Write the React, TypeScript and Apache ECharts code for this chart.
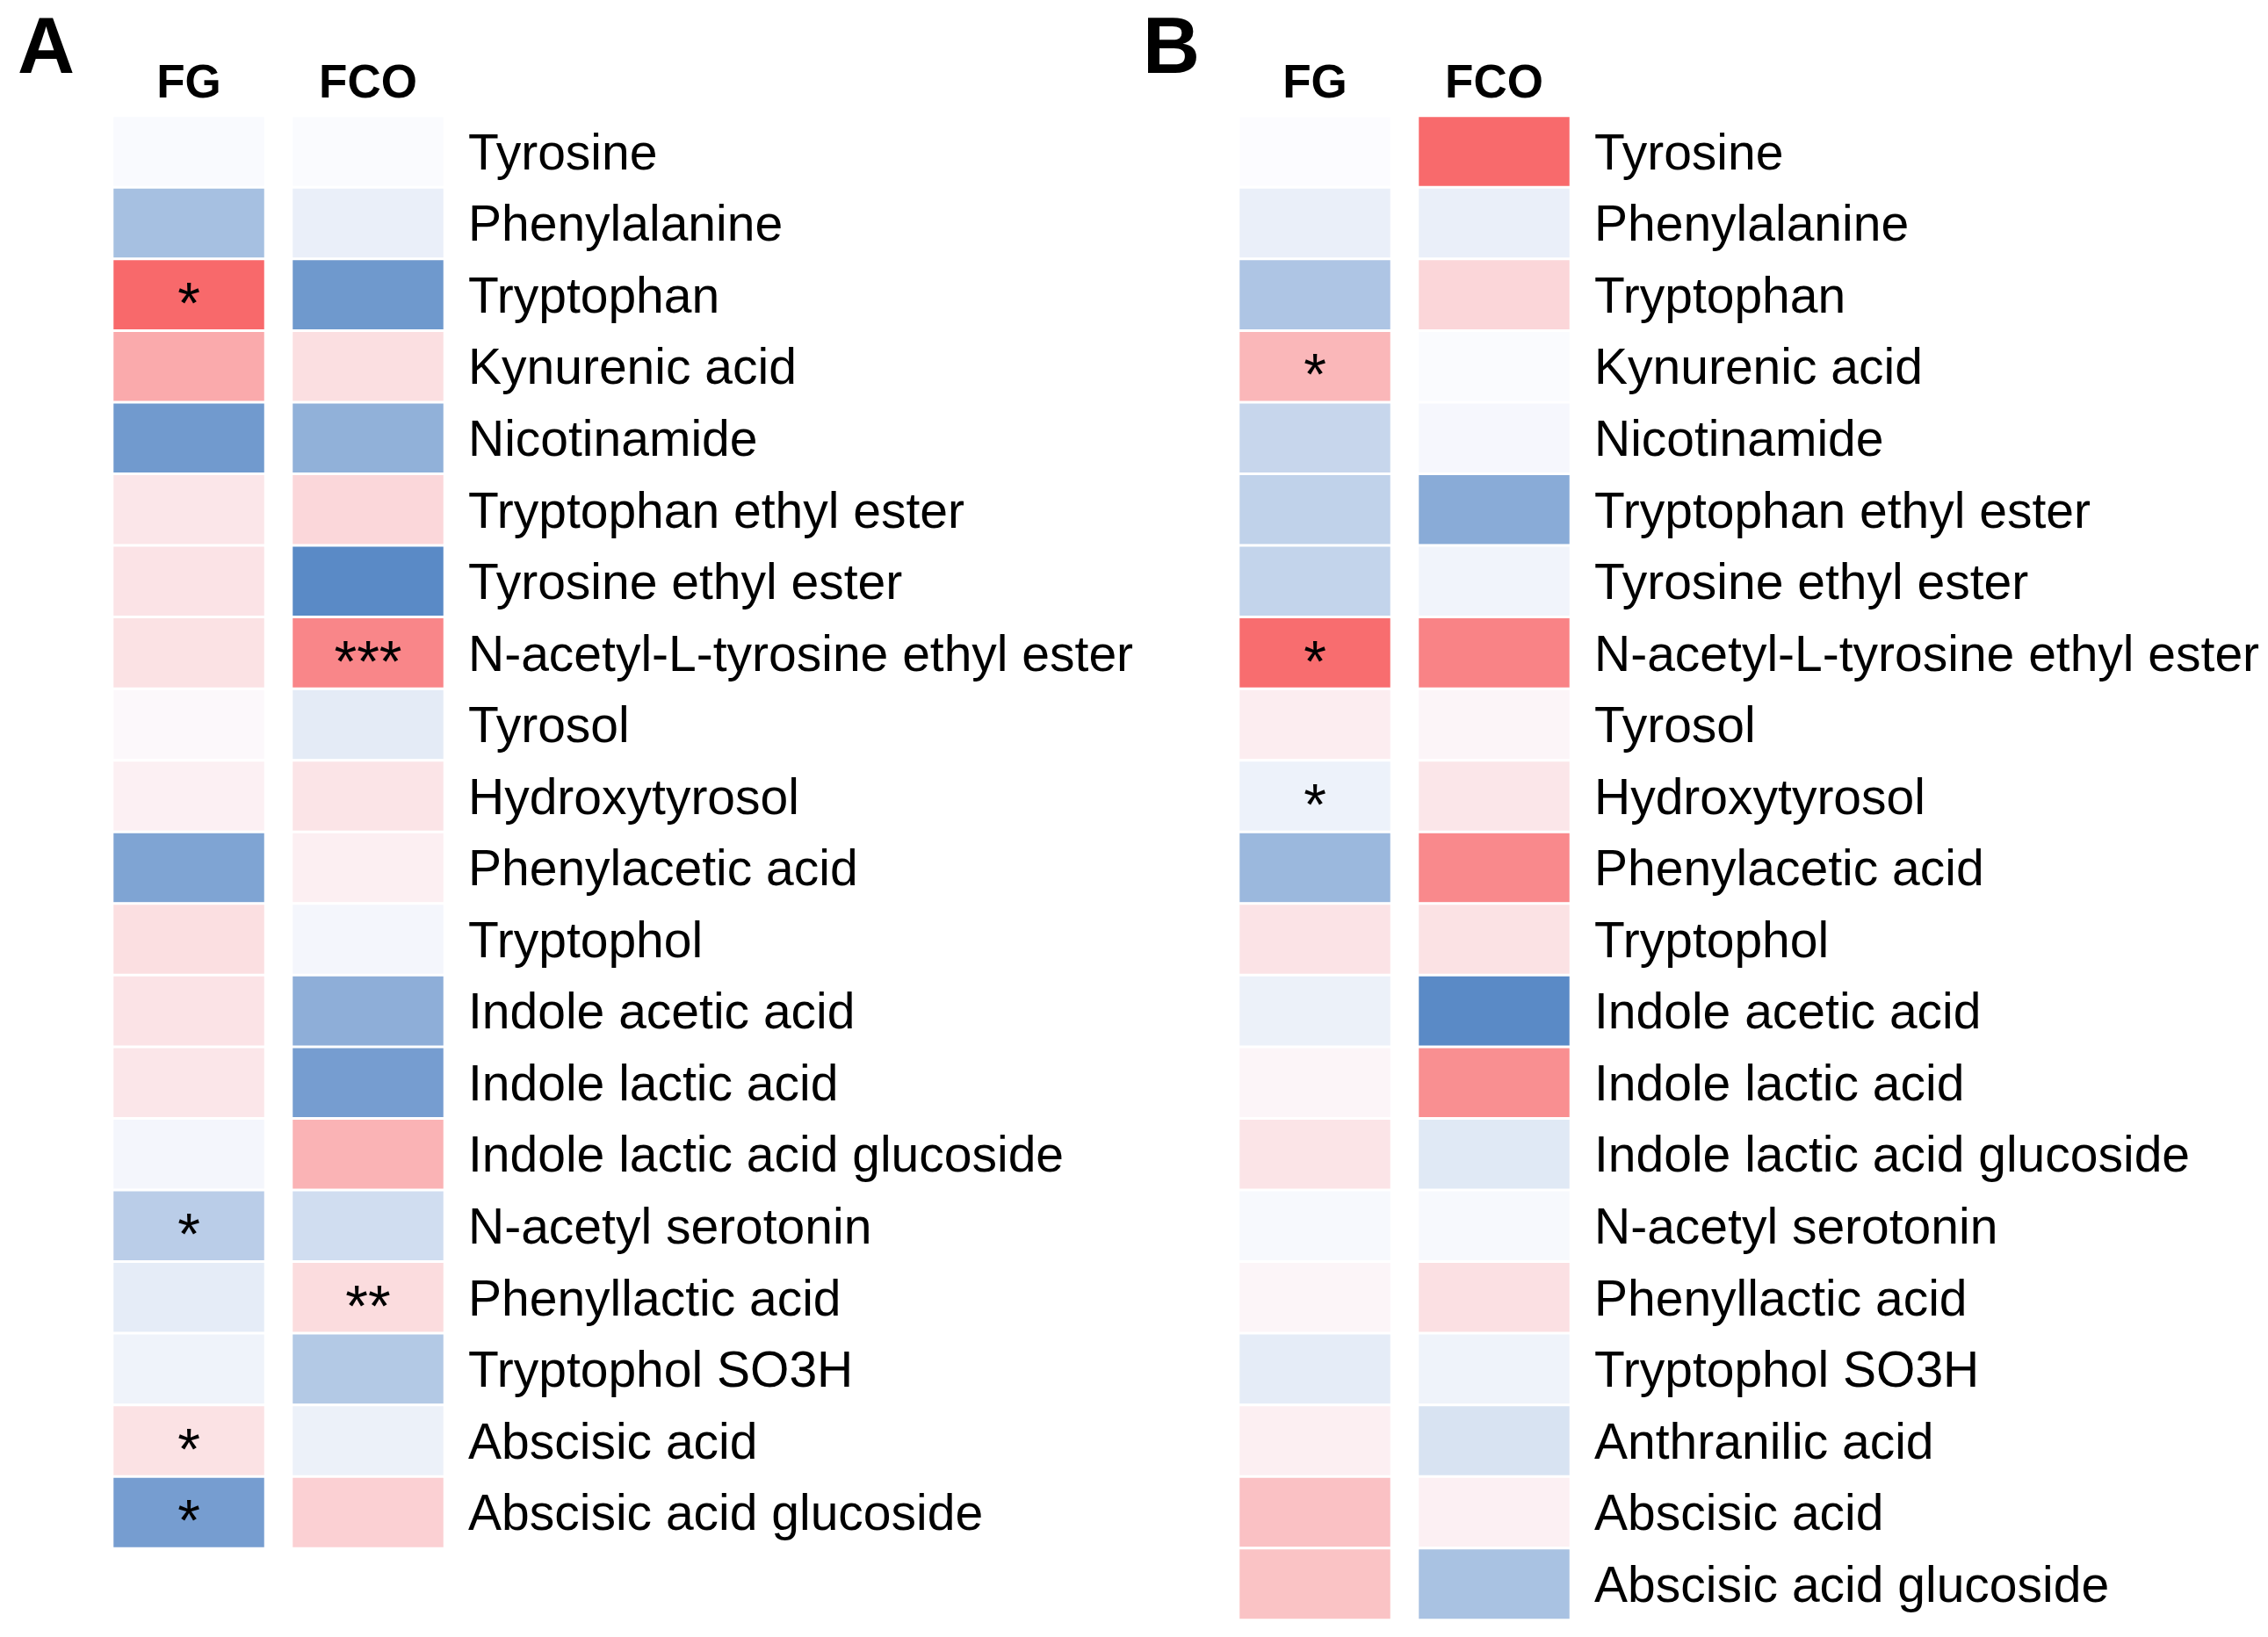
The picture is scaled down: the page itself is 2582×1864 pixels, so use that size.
import React, { useEffect, useRef } from "react";
import * as echarts from "echarts";

const labelsA = [
  "Tyrosine", "Phenylalanine", "Tryptophan", "Kynurenic acid", "Nicotinamide",
  "Tryptophan ethyl ester", "Tyrosine ethyl ester", "N-acetyl-L-tyrosine ethyl ester",
  "Tyrosol", "Hydroxytyrosol", "Phenylacetic acid", "Tryptophol", "Indole acetic acid",
  "Indole lactic acid", "Indole lactic acid glucoside", "N-acetyl serotonin",
  "Phenyllactic acid", "Tryptophol SO3H", "Abscisic acid", "Abscisic acid glucoside",
];
const labelsB = [
  "Tyrosine", "Phenylalanine", "Tryptophan", "Kynurenic acid", "Nicotinamide",
  "Tryptophan ethyl ester", "Tyrosine ethyl ester", "N-acetyl-L-tyrosine ethyl ester",
  "Tyrosol", "Hydroxytyrosol", "Phenylacetic acid", "Tryptophol", "Indole acetic acid",
  "Indole lactic acid", "Indole lactic acid glucoside", "N-acetyl serotonin",
  "Phenyllactic acid", "Tryptophol SO3H", "Anthranilic acid", "Abscisic acid",
  "Abscisic acid glucoside",
];

const columns = ["FG", "FCO"];

// relative change (blue = negative, red = positive), scaled to [-1, 1]
const aFG = [-0.02, -0.53, 1.0, 0.56, -0.86, 0.15, 0.17, 0.18, 0.03, 0.08, -0.77, 0.2, 0.17, 0.15, -0.05, -0.41, -0.14, -0.08, 0.18, -0.83];
const aFCO = [-0.01, -0.11, -0.87, 0.2, -0.66, 0.25, -1.0, 0.8, -0.15, 0.16, 0.09, -0.05, -0.68, -0.83, 0.5, -0.27, 0.22, -0.45, -0.1, 0.3];
const bFG = [0.0, -0.11, -0.48, 0.47, -0.33, -0.37, -0.35, 0.97, 0.1, -0.09, -0.6, 0.17, -0.1, 0.05, 0.16, -0.03, 0.05, -0.14, 0.09, 0.4, 0.39];
const bFCO = [0.99, -0.11, 0.26, -0.01, -0.04, -0.71, -0.07, 0.82, 0.05, 0.15, 0.78, 0.18, -1.0, 0.74, -0.17, -0.03, 0.19, -0.08, -0.22, 0.08, -0.51];

const starsAFG = ["", "", "*", "", "", "", "", "", "", "", "", "", "", "", "", "*", "", "", "*", "*"];
const starsAFCO = ["", "", "", "", "", "", "", "***", "", "", "", "", "", "", "", "", "**", "", "", ""];
const starsBFG = ["", "", "", "*", "", "", "", "*", "", "*", "", "", "", "", "", "", "", "", "", "", ""];
const starsBFCO = labelsB.map(() => "");

const FONT = "Liberation Sans";
const ROW = 81.55;
const TOP = 132;

export default function App() {
  const ref = useRef<HTMLDivElement>(null);
  useEffect(() => {
    if (!ref.current) return;
    const chart = echarts.init(ref.current, null, { renderer: "svg" });

    const panels = [
      { left: 128, width: 174, col: 0, labels: labelsA, vals: aFG, stars: starsAFG, showLabels: false },
      { left: 332, width: 174, col: 1, labels: labelsA, vals: aFCO, stars: starsAFCO, showLabels: true },
      { left: 1410, width: 174, col: 0, labels: labelsB, vals: bFG, stars: starsBFG, showLabels: false },
      { left: 1614, width: 174, col: 1, labels: labelsB, vals: bFCO, stars: starsBFCO, showLabels: true },
    ];

    const grid = panels.map((p) => ({
      left: p.left,
      width: p.width,
      top: TOP,
      height: p.labels.length * ROW,
      containLabel: false,
    }));
    const xAxis = panels.map((p, i) => ({
      type: "category",
      gridIndex: i,
      position: "top",
      data: [columns[p.col]],
      axisLine: { show: false },
      axisTick: { show: false },
      splitLine: { show: false },
      axisLabel: {
        show: true,
        margin: 13,
        fontFamily: FONT,
        fontWeight: "bold",
        fontSize: 53,
        color: "#000",
      },
    }));
    const yAxis = panels.map((p, i) => ({
      type: "category",
      gridIndex: i,
      inverse: true,
      position: "right",
      data: p.labels,
      axisLine: { show: false },
      axisTick: { show: false },
      splitLine: { show: false },
      axisLabel: {
        show: p.showLabels,
        margin: 27,
        align: "left",
        fontFamily: FONT,
        fontSize: 57,
        color: "#000",
      },
    }));
    const series = panels.map((p, i) => ({
      type: "heatmap",
      xAxisIndex: i,
      yAxisIndex: i,
      data: p.vals.map((v, j) => [0, j, v]),
      itemStyle: { borderColor: "#ffffff", borderWidth: 3 },
      label: {
        show: true,
        formatter: (d: any) => p.stars[d.dataIndex] || "",
        fontFamily: FONT,
        fontSize: 66,
        color: "#000",
        offset: [0, 9],
      },
      emphasis: { disabled: true },
    }));

    chart.setOption({
      animation: false,
      backgroundColor: "#ffffff",
      grid,
      xAxis,
      yAxis,
      visualMap: {
        show: false,
        type: "continuous",
        min: -1,
        max: 1,
        seriesIndex: [0, 1, 2, 3],
        inRange: { color: ["#5A8AC6", "#FCFCFF", "#F8696B"] },
      },
      series,
      graphic: [
        {
          type: "text",
          left: 20,
          top: 7,
          style: { text: "A", font: `bold 90px '${FONT}'`, fill: "#000" },
        },
        {
          type: "text",
          left: 1301,
          top: 7,
          style: { text: "B", font: `bold 90px '${FONT}'`, fill: "#000" },
        },
      ],
    });
    return () => chart.dispose();
  }, []);
  return (
    <div
      ref={ref}
      style={{ position: "fixed", left: 0, top: 0, width: 2582, height: 1864, background: "#fff" }}
    />
  );
}
